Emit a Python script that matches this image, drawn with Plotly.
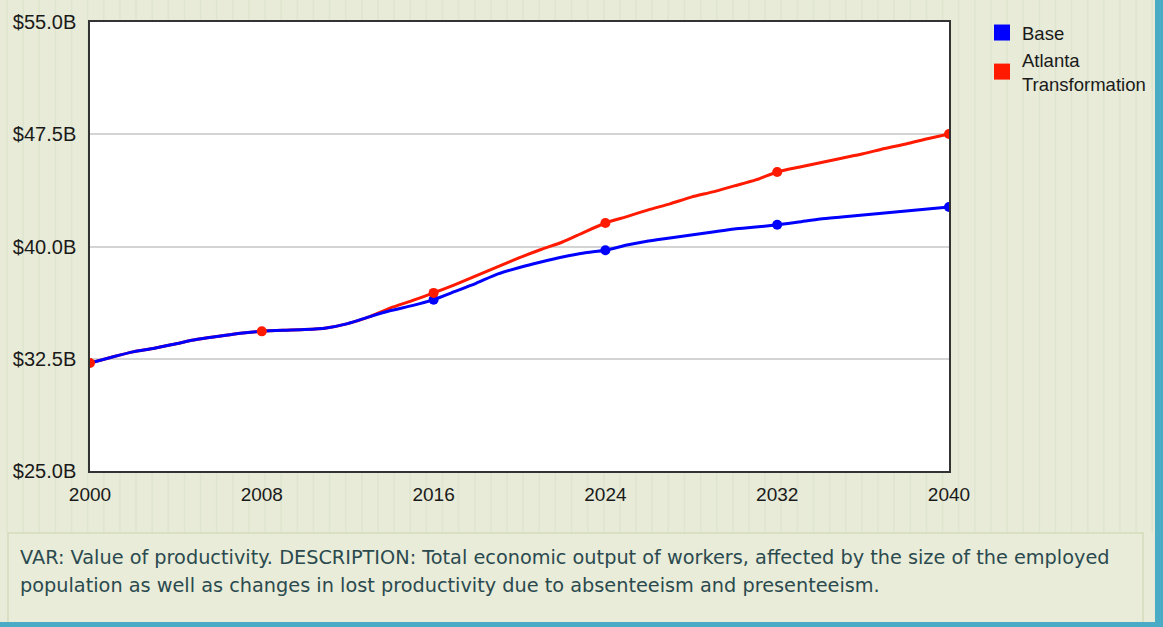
import plotly.graph_objects as go

years = list(range(2000, 2041))
base = [32.22, 32.6, 32.96, 33.2, 33.5, 33.8, 34.0, 34.2, 34.33, 34.4,
        34.45, 34.56, 34.85, 35.3, 35.72, 36.05, 36.45, 37.0, 37.56, 38.17,
        38.6, 38.97, 39.3, 39.57, 39.75, 40.1, 40.37, 40.57, 40.77, 40.97,
        41.17, 41.3, 41.45, 41.64, 41.84, 41.97, 42.1, 42.24, 42.37, 42.5, 42.64]
atlanta = [32.22, 32.6, 32.96, 33.2, 33.5, 33.8, 34.0, 34.2, 34.33, 34.4,
           34.45, 34.56, 34.85, 35.3, 35.9, 36.38, 36.9, 37.45, 38.05, 38.65,
           39.25, 39.8, 40.3, 40.95, 41.57, 42.0, 42.45, 42.85, 43.3, 43.65,
           44.05, 44.45, 44.98, 45.3, 45.6, 45.9, 46.2, 46.55, 46.85, 47.2, 47.52]
series_names = ["Base", "Atlanta<br>Transformation"]
y_ticks = [25.0, 32.5, 40.0, 47.5, 55.0]
y_labels = ["$25.0B", "$32.5B", "$40.0B", "$47.5B", "$55.0B"]
x_ticks = [2000, 2008, 2016, 2024, 2032, 2040]
description = ["VAR: Value of productivity. DESCRIPTION: Total economic output of workers, affected by the size of the employed",
               "population as well as changes in lost productivity due to absenteeism and presenteeism."]

BLUE = "#0000ff"
RED = "#ff1a00"

mk_years = [y for y in years if y in x_ticks]
mk_base = [v for y, v in zip(years, base) if y in x_ticks]
mk_atl = [v for y, v in zip(years, atlanta) if y in x_ticks]

fig = go.Figure()
fig.add_trace(go.Scatter(x=years, y=atlanta, mode="lines", line=dict(color=RED, width=3, shape="spline", smoothing=0.6),
                         showlegend=False, hoverinfo="skip"))
fig.add_trace(go.Scatter(x=years, y=base, mode="lines", line=dict(color=BLUE, width=3, shape="spline", smoothing=0.6),
                         showlegend=False, hoverinfo="skip"))
fig.add_trace(go.Scatter(x=mk_years[2:], y=mk_base[2:], mode="markers",
                         marker=dict(color=BLUE, size=10), showlegend=False))
fig.add_trace(go.Scatter(x=mk_years, y=mk_atl, mode="markers",
                         marker=dict(color=RED, size=10), showlegend=False))
# legend proxies
fig.add_trace(go.Scatter(x=[None], y=[None], mode="markers", name=series_names[0],
                         marker=dict(color=BLUE, size=17, symbol="square")))
fig.add_trace(go.Scatter(x=[None], y=[None], mode="markers", name=series_names[1],
                         marker=dict(color=RED, size=17, symbol="square")))

W, H = 1163, 627
L, R, T, B = 90, 214, 22, 156
pw, ph = W - L - R, H - T - B


def px(x):
    return (x - L) / pw


def py(y):
    return (H - B - y) / ph


shapes = []
# vertical stripe texture (upper band only)
x = 7.0
while x < 1153:
    shapes.append(dict(type="line", xref="paper", yref="paper", x0=px(x), x1=px(x),
                       y0=py(0), y1=py(533), line=dict(color="#dfe5cf", width=1.5), layer="below"))
    x += 16.13
# white plot area over texture
shapes.append(dict(type="rect", xref="paper", yref="paper", x0=0, x1=1, y0=0, y1=1,
                   fillcolor="#ffffff", line=dict(width=0), layer="below"))
# description box
shapes.append(dict(type="rect", xref="paper", yref="paper", x0=px(8), x1=px(1143),
                   y0=py(624), y1=py(533), fillcolor="#e8ecd8",
                   line=dict(color="#d5dcbb", width=1.5), layer="below"))
# cyan frame edges
shapes.append(dict(type="rect", xref="paper", yref="paper", x0=px(0), x1=px(W),
                   y0=py(H), y1=py(622), fillcolor="#49abc6", line=dict(width=0), layer="above"))
shapes.append(dict(type="rect", xref="paper", yref="paper", x0=px(1155), x1=px(W),
                   y0=py(H), y1=py(0), fillcolor="#49abc6", line=dict(width=0), layer="above"))

annotations = []
for i, line in enumerate(description):
    annotations.append(dict(xref="paper", yref="paper", x=px(18), y=py(557 + 28 * i),
                            xanchor="left", yanchor="middle", showarrow=False, text=line,
                            font=dict(family="DejaVu Sans", size=19.3, color="#2b4a4f")))

fig.update_layout(
    width=W, height=H,
    margin=dict(l=L, r=R, t=T, b=B, pad=0, autoexpand=False),
    paper_bgcolor="#e7ebd8",
    plot_bgcolor="rgba(0,0,0,0)",
    shapes=shapes,
    annotations=annotations,
    font=dict(family="Liberation Sans, Arial, sans-serif", size=20, color="#1a1a1a"),
    legend=dict(x=px(982), y=py(14), xanchor="left", yanchor="top",
                bgcolor="rgba(0,0,0,0)", font=dict(size=18.5, color="#1a1a1a"),
                itemsizing="trace", tracegroupgap=3),
    xaxis=dict(range=[2000, 2040], tickvals=x_ticks, showgrid=False, zeroline=False,
               showline=True, mirror=True, linecolor="#333333", linewidth=1.5,
               ticks="outside", ticklen=5, tickcolor="rgba(0,0,0,0)",
               tickfont=dict(size=19)),
    yaxis=dict(range=[25, 55], tickvals=y_ticks, ticktext=y_labels, showgrid=True,
               gridcolor="#d4d4d4", gridwidth=1.5, zeroline=False,
               showline=True, mirror=True, linecolor="#333333", linewidth=1.5,
               ticks="outside", ticklen=8, tickcolor="rgba(0,0,0,0)"),
)

fig.write_html("out.html", config={"displayModeBar": False},
               post_script="document.body.style.margin='0';document.body.style.overflow='hidden';"
                           "document.body.style.background='#e7ebd8';")
